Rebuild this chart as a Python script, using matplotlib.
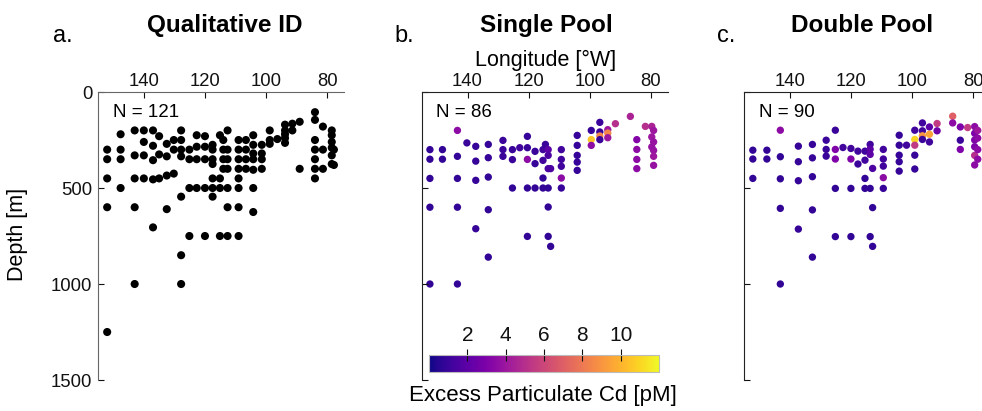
import numpy as np
import matplotlib.pyplot as plt

plt.rcParams['font.family'] = ['Liberation Sans', 'DejaVu Sans']

# a. qualitative ID (longitude in deg W, depth in m)
lon_a = [152]*5 + [147.6]*4 + [143]*5 + [140]*4 + [137]*5 + [135]*3 + [132.5]*4 + [130.2]*3 \
    + [127.8]*7 + [125.1]*4 + [122.7]*4 + [120]*5 + [117.5]*7 + [115.1]*4 + [114]*4 + [112.6]*7 \
    + [109]*8 + [106.6]*4 + [104.2]*7 + [101.4]*4 + [98.8]*3 + [96.3] + [93.8]*5 + [91.4]*2 \
    + [89]*2 + [84]*7 + [81.4]*3 + [78.5]*6 + [77.8]*2
depth_a = [300, 350, 450, 600, 1250, 220, 300, 350, 500, 200, 330, 450, 600, 1000,
           200, 260, 330, 450, 200, 280, 355, 455, 705, 230, 325, 450, 270, 335, 435, 610,
           250, 300, 425, 200, 250, 300, 335, 545, 850, 1000, 300, 350, 500, 750,
           225, 285, 350, 500, 230, 285, 350, 500, 750, 275, 300, 350, 375, 450, 500, 545,
           225, 450, 500, 750, 250, 300, 350, 400, 200, 300, 350, 400, 500, 600, 750,
           250, 300, 350, 400, 450, 500, 600, 750, 250, 300, 350, 400,
           225, 275, 320, 350, 405, 500, 625, 275, 320, 350, 400, 200, 250, 270, 245,
           170, 200, 220, 240, 265, 165, 200, 155, 400, 105, 145, 250, 300, 350, 400, 450,
           180, 300, 400, 200, 225, 260, 290, 330, 375, 300, 380]

# b. single pool
lon_b = [152.3]*5 + [148.2]*2 + [143.3]*5 + [140.2] + [137.3]*4 + [133.2]*5 + [128.4]*3 \
    + [125.3]*3 + [122.9] + [120.4]*5 + [117.9]*3 + [115.3]*4 + [114.5] + [113.6]*6 + [112.8]*2 \
    + [109.3]*5 + [104.1]*5 + [99.5]*3 + [96.7]*4 + [94.1]*3 + [91.6] + [86.7] + [84.6]*4 \
    + [81.8] + [79.7]*3 + [79.1]*5
depth_b = [300, 350, 450, 600, 1000, 300, 350, 200, 335, 450, 600, 1000, 265,
           283, 360, 460, 712, 273, 342, 443, 613, 860, 252, 300, 335, 300, 352, 500, 290,
           231, 290, 351, 500, 752, 309, 373, 500, 300, 356, 448, 500, 273,
           300, 330, 399, 500, 599, 752, 399, 804, 300, 351, 387, 448, 500,
           226, 278, 330, 365, 408, 200, 248, 278, 158, 208, 229, 248, 196, 214, 238,
           165, 127, 248, 299, 351, 399, 179, 179, 234, 286, 200, 260, 304, 335, 382]
cd_b = [.8, .8, .8, .8, .8, .8, .8, 3.5, .8, .8, .8, .8, 1.0,
        .9, .9, .9, .9, .9, .9, .8, .8, .8, 1.0, 1.0, 1.0, 1.0, 1.0, .8, 1.2,
        .9, 1.0, 3.5, .8, .8, 1.0, .9, .8, 1.2, 1.2, .8, .8, 1.0,
        2.0, 1.5, 1.5, .8, .8, .8, 1.5, .8, 1.2, 1.2, 1.2, 3.5, .9,
        .9, .9, .9, .9, .9, .9, 10.5, 3.5, 1.0, 1.0, 8.5, 1.0, 4.0, 8.5, 4.0,
        5.0, 4.5, 3.2, 3.5, 3.5, 3.5, 5.0, 4.5, 4.0, 3.8, 4.0, 3.8, 3.8, 4.0, 3.8]

# c. double pool
lon_c = [152.1]*3 + [147.5]*2 + [143.1]*5 + [137.2]*4 + [132.6]*5 + [128.1]*3 + [125.1]*5 \
    + [122.6] + [120]*4 + [117.7]*2 + [115.4]*4 + [113.7]*5 + [112.9]*3 + [109.4]*5 + [104.2]*5 \
    + [101.8] + [99.1]*5 + [96.6]*4 + [94.3]*3 + [91.8]*2 + [86.7]*2 + [84.2]*3 + [81.8] \
    + [79.5]*6 + [78.5]*4
depth_c = [303, 349, 450, 303, 349, 199, 337, 452, 606, 1000, 282, 363, 462, 714,
           273, 343, 441, 614, 860, 251, 299, 334, 199, 299, 349, 502, 753, 289,
           294, 349, 502, 753, 308, 375, 308, 355, 450, 502, 273, 298, 325, 502, 753,
           398, 602, 804, 299, 349, 386, 446, 502, 225, 277, 329, 363, 412, 277,
           199, 247, 277, 329, 401, 161, 202, 228, 247, 182, 220, 260, 164, 202,
           126, 161, 182, 251, 299, 185, 180, 215, 250, 285, 330, 380, 200, 240, 300, 350]
cd_c = [.8, .8, .8, .8, .8, 3.5, .8, .8, .8, .8, .9, .9, .9, .9,
        .9, .9, .8, .8, .8, 1.0, 1.0, 1.0, 1.0, 3.0, 3.0, .8, .8, 1.2,
        1.2, 3.0, .8, .8, 1.2, 1.0, 1.2, 1.2, .8, .8, 1.2, 2.0, 2.0, .8, .8,
        1.5, .8, .8, 1.2, 1.2, 1.2, 3.5, .9, .9, .9, .9, .9, .9, 1.2,
        1.2, 11.0, 5.5, .9, .9, 1.2, 1.2, 9.0, 1.0, 2.0, 9.5, 1.2, 5.5, 2.5,
        7.0, 3.5, 3.0, 1.0, 3.0, 5.5, 3.5, 3.0, 3.0, 3.0, 5.0, 3.5, 4.0, 3.5, 3.5, 3.5]

titles = ['Qualitative ID', 'Single Pool', 'Double Pool']
letters = ['a.', 'b.', 'c.']

fig = plt.figure(figsize=(9.82, 4.11), dpi=100)
lefts = [0.0998, 0.4294, 0.7576]
axes = [fig.add_axes([l, 0.0754, 0.2505, 0.7007]) for l in lefts]

for i, ax in enumerate(axes):
    ax.set_xlim(155, 74.5)
    ax.set_ylim(1500, 0)
    ax.xaxis.tick_top()
    ax.set_xticks([140, 120, 100, 80])
    ax.set_yticks([0, 500, 1000, 1500])
    ax.tick_params(direction='in', length=4, labelsize=13.3, colors='#111111', pad=4)
    ax.tick_params(axis='x', pad=1.5)
    ax.spines['right'].set_visible(False)
    ax.spines['bottom'].set_visible(False)
    for s in ['top', 'left']:
        ax.spines[s].set_color('#666666' if i == 0 else '#222222')

ax = axes[0]
ax.scatter(lon_a, depth_a, s=34, c='black', edgecolors='none')
ax.text(0.06, 0.93, 'N = 121', transform=ax.transAxes, fontsize=13.5, va='center')
fig.text(0.018, 0.43, 'Depth [m]', rotation=90, fontsize=15.5, ha='center', va='center')

ax = axes[1]
sc = ax.scatter(lon_b, depth_b, s=28, c=cd_b, cmap='plasma', vmin=0, vmax=12, edgecolors='none')
ax.set_yticklabels([])
ax.text(0.06, 0.93, 'N = 86', transform=ax.transAxes, fontsize=13.5, va='center')
fig.text(0.556, 0.853, 'Longitude [°W]', fontsize=15.5, ha='center', va='center')

ax = axes[2]
ax.scatter(lon_c, depth_c, s=28, c=cd_c, cmap='plasma', vmin=0, vmax=12, edgecolors='none')
ax.set_yticklabels([])
ax.text(0.06, 0.93, 'N = 90', transform=ax.transAxes, fontsize=13.5, va='center')

for x, t in zip([0.229, 0.556, 0.878], titles):
    fig.text(x, 0.937, t, fontsize=17.5, fontweight='bold', ha='center', va='center')
for x, t in zip([0.054, 0.402, 0.730], letters):
    fig.text(x, 0.913, t, fontsize=17, ha='left', va='center')

cax = fig.add_axes([0.437, 0.095, 0.234, 0.041])
cb = fig.colorbar(sc, cax=cax, orientation='horizontal', ticks=[2, 4, 6, 8, 10])
cb.outline.set_edgecolor('#bbbbbb')
cax.xaxis.set_ticks_position('top')
cax.tick_params(direction='inout', length=8, width=0.8, labelsize=15, pad=3, colors='#111111')
fig.text(0.553, 0.038, 'Excess Particulate Cd [pM]', fontsize=16, ha='center', va='center')

fig.savefig('out.png', dpi=100)
